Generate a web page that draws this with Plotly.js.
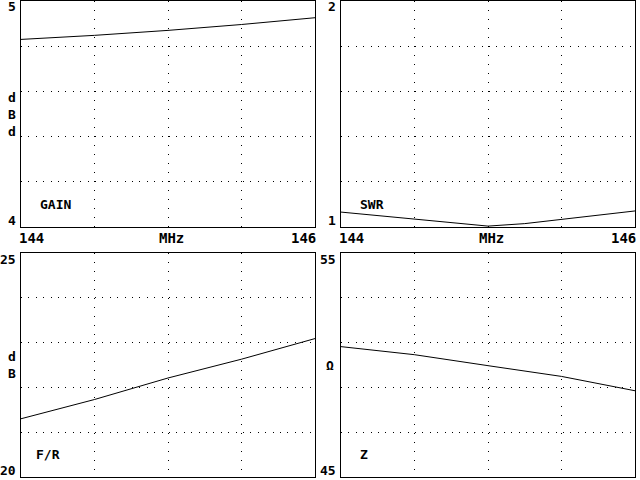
<!DOCTYPE html>
<html>
<head>
<meta charset="utf-8">
<script src="https://cdn.plot.ly/plotly-3.0.1.min.js"></script>
<style>html,body{margin:0;padding:0;background:#fff;}#chart{width:640px;height:480px;}</style>
</head>
<body>
<div id="chart"></div>
<script>
// ---- data ----
var freq = [144, 144.5, 145, 145.5, 146];
var gain = [4.830, 4.848, 4.870, 4.896, 4.926];
var fr = [21.30, 21.73, 22.21, 22.63, 23.09];
var z = [50.82, 50.46, 49.97, 49.49, 48.85];
var swrFreq = [144, 144.25, 144.5, 144.75, 145, 145.25, 145.5, 145.75, 146];
var swr = [1.066, 1.050, 1.034, 1.018, 1.004, 1.015, 1.034, 1.052, 1.071];

var panelNames = ['GAIN', 'SWR', 'F/R', 'Z'];
var yUnits = ['d<br>B<br>d', '', 'd<br>B', 'Ω'];
var yRanges = [[4, 5], [1, 2], [20, 25], [45, 55]];
var yTops = ['5', '2', '25', '55'];
var yBottoms = ['4', '1', '20', '45'];
var yDticks = [0.2, 0.2, 1, 2];
var xRange = [144, 146];
var xTickLeft = '144', xTickRight = '146', xUnit = 'MHz';

// ---- layout ----
var W = 640, H = 480;
var colPx = [[21, 315], [341, 635]];
var rowPx = [[1, 227], [253, 477]];
var FONT = {family: 'DejaVu Sans Mono', size: 14, color: '#000', weight: 'bold'};
var NUMFONT = {family: 'DejaVu Sans Mono', size: 13, color: '#000', weight: 'bold'};
var SMALL = {family: 'DejaVu Sans Mono', size: 13, color: '#000', weight: 'bold'};

var traces = [
  {x: freq, y: gain, xaxis: 'x', yaxis: 'y'},
  {x: swrFreq, y: swr, xaxis: 'x2', yaxis: 'y2'},
  {x: freq, y: fr, xaxis: 'x3', yaxis: 'y3'},
  {x: freq, y: z, xaxis: 'x4', yaxis: 'y4'}
].map(function (t) {
  t.type = 'scatter'; t.mode = 'lines';
  t.line = {color: '#000', width: 1};
  t.hoverinfo = 'skip';
  return t;
});

var layout = {
  width: W, height: H,
  margin: {l: 0, r: 0, t: 0, b: 0},
  paper_bgcolor: '#fff', plot_bgcolor: '#fff',
  showlegend: false,
  annotations: [],
  font: FONT
};

for (var i = 0; i < 4; i++) {
  var c = i % 2, r = Math.floor(i / 2);
  var sfx = i === 0 ? '' : String(i + 1);
  var xd = [colPx[c][0] / W, colPx[c][1] / W];
  var yd = [1 - rowPx[r][1] / H, 1 - rowPx[r][0] / H];
  layout['xaxis' + sfx] = {
    domain: xd, range: xRange, dtick: 0.5, tick0: 144,
    anchor: 'y' + sfx,
    showline: true, mirror: true, linecolor: '#000', linewidth: 1,
    showgrid: true, gridcolor: '#000', gridwidth: 1, griddash: '1px,8px',
    zeroline: false, ticks: '', showticklabels: false, fixedrange: true
  };
  layout['yaxis' + sfx] = {
    domain: yd, range: yRanges[i], dtick: yDticks[i], tick0: yRanges[i][0],
    anchor: 'x' + sfx,
    showline: true, mirror: true, linecolor: '#000', linewidth: 1,
    showgrid: true, gridcolor: '#000', gridwidth: 1, griddash: '1px,6.4px',
    zeroline: false, ticks: '', showticklabels: false, fixedrange: true
  };
  var xr = 'x' + sfx + ' domain', yr = 'y' + sfx + ' domain';
  var A = layout.annotations;
  function ann(o) {
    o.xref = o.xref || xr; o.yref = o.yref || yr; o.showarrow = false;
    o.font = o.font || FONT; A.push(o);
  }
  // y tick labels
  ann({x: 0, y: 1, text: yTops[i], xanchor: 'right', yanchor: 'middle', xshift: -3, yshift: -6, font: NUMFONT});
  ann({x: 0, y: 0, text: yBottoms[i], xanchor: 'right', yanchor: 'middle', xshift: -3, yshift: 7, font: NUMFONT});
  // y unit
  if (yUnits[i]) {
    ann({x: 0, y: 0.5, text: yUnits[i], xanchor: 'center', yanchor: 'middle', xshift: c === 0 ? -9 : -11, font: SMALL});
  }
  // x tick labels (only visible under the top row; the bottom row's fall off the page)
  if (r === 0) {
    ann({x: 0, y: 0, text: xTickLeft, xanchor: 'left', yanchor: 'middle', xshift: -4, yshift: -11});
    ann({x: 1, y: 0, text: xTickRight, xanchor: 'right', yanchor: 'middle', xshift: 3, yshift: -11});
    ann({x: 0.5, y: 0, text: xUnit, xanchor: 'center', yanchor: 'middle', xshift: 3, yshift: -11});
  }
  // panel name
  ann({x: 0, y: 0, text: panelNames[i], xanchor: 'left', yanchor: 'middle', xshift: i === 2 ? 13 : 17, yshift: 23, font: SMALL});
}

Plotly.newPlot('chart', traces, layout, {staticPlot: true, displayModeBar: false});
</script>
</body>
</html>
